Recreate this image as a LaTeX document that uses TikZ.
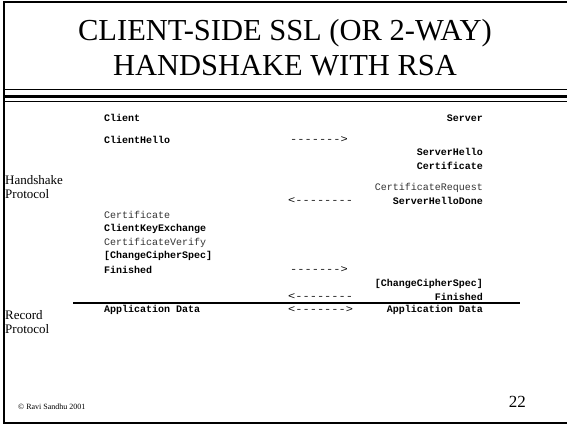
\documentclass[tikz,border=0pt]{standalone}
\usepackage{fontspec}
\setmainfont{Liberation Serif}
\setmonofont{Liberation Mono}
\usetikzlibrary{positioning}
\tikzset{
msg/.style={font=\ttfamily\bfseries\fontsize{10}{11}\selectfont,inner sep=0pt},
optmsg/.style={font=\ttfamily\fontsize{10}{11}\selectfont,inner sep=0pt,text=black!80},
flowtext/.style={font=\ttfamily\fontsize{10}{11}\selectfont,inner sep=0pt,anchor=west,xscale=1.2,transform shape},
layer/.style={font=\fontsize{13}{14.5}\selectfont,align=left,inner sep=0pt,anchor=west},
frameline/.style={line width=2pt},
rule/.style={line width=1.5pt}
}
\begin{document}
\begin{tikzpicture}[x=1pt,y=-1pt]
\useasboundingbox (0,0) rectangle (567,424);
% slide frame
\draw[frameline] (568,1.5) -- (3.5,1.5) -- (3.5,422.5) -- (568,422.5);
\draw[line width=1pt] (4,89.5) -- (567,89.5);
\draw[line width=3pt] (4,96.5) -- (567,96.5);
\draw[line width=1pt] (4,101.5) -- (567,101.5);
% title
\node[font=\fontsize{30.5}{35}\selectfont,align=center] (title) at (285,48) {CLIENT-SIDE SSL (OR 2-WAY)\\HANDSHAKE WITH RSA};
% protocol layers
\node[layer] (hs) at (5,187) {Handshake\\Protocol};
\node[layer] (rec) at (5,322) {Record\\Protocol};
% client and server
\node[msg,anchor=west] (client) at (104,118) {Client};
\node[msg,anchor=east] (server) at (483,118) {Server};
\node[msg,anchor=west] (chello) at (104,140) {ClientHello};
\node[flowtext] (f1) at (290,140) {------->};
\node[msg,anchor=east] (shello) at (483,152) {ServerHello};
\node[msg,anchor=east] (scert) at (483,166) {Certificate};
\node[optmsg,anchor=east] (creq) at (483,188) {CertificateRequest};
\node[msg,anchor=east] (sdone) at (483,201) {ServerHelloDone};
\node[flowtext] (f2) at (288,201) {<--------};
\node[optmsg,anchor=west] (ccert) at (104,215) {Certificate};
\node[msg,anchor=west] (ckex) at (104,229) {ClientKeyExchange};
\node[optmsg,anchor=west] (cver) at (104,243) {CertificateVerify};
\node[msg,anchor=west] (cccs) at (104,256) {[ChangeCipherSpec]};
\node[msg,anchor=west] (cfin) at (104,270) {Finished};
\node[flowtext] (f3) at (290,270) {------->};
\node[msg,anchor=east] (sccs) at (483,284) {[ChangeCipherSpec]};
\node[msg,anchor=east] (sfin) at (483,297) {Finished};
\node[flowtext] (f4) at (288,297) {<--------};
% record layer
\coordinate (rl) at (73,303);
\coordinate (rr) at (520,303);
\draw[rule] (rl) -- (rr);
\node[msg,anchor=west] (cdata) at (104,310) {Application Data};
\node[flowtext] (f5) at (288,310) {<------->};
\node[msg,anchor=east] (sdata) at (483,310) {Application Data};
% footer
\node[font=\fontsize{8}{9}\selectfont,anchor=west,inner sep=0pt] (copy) at (18,407) {\textcopyright\ Ravi Sandhu 2001};
\node[font=\fontsize{17}{18}\selectfont,anchor=east,inner sep=0pt] (page) at (526,402) {22};
\end{tikzpicture}
\end{document}
